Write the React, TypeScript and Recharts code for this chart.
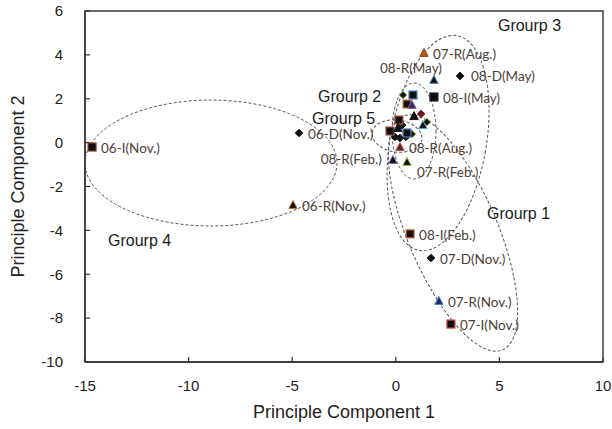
import React from 'react';
import { ScatterChart, Scatter, XAxis, YAxis, ReferenceArea, Label } from 'recharts';

// ---------- layout ----------
const W = 612;
const H = 429;
const MARGIN = { top: 11, right: 9, left: 0, bottom: 0 };
const Y_AXIS_W = 85;
const X_AXIS_H = 67;

// ---------- axes ----------
const X_DOMAIN: [number, number] = [-15, 10];
const Y_DOMAIN: [number, number] = [-10, 6];
const xTicks = [-15, -10, -5, 0, 5, 10];
const yTicks = [-10, -8, -6, -4, -2, 0, 2, 4, 6];
const xTitle = 'Principle Component 1';
const yTitle = 'Principle Component 2';

// ---------- data: I samples (squares) ----------
const iSamples = [
  { id: 'i1', name: '06-I(Nov.)', x: -14.66, y: -0.2 },
  { id: 'i2', name: '08-I(May)', x: 1.84, y: 2.08 },
  { id: 'i3', name: '08-I(Feb.)', x: 0.69, y: -4.16 },
  { id: 'i4', name: '07-I(Nov.)', x: 2.66, y: -8.27 },
  { id: 'i5', name: '', x: 0.83, y: 2.17 },
  { id: 'i6', name: '', x: 0.54, y: 1.76 },
  { id: 'i7', name: '', x: 0.15, y: 1.03 },
  { id: 'i8', name: '', x: -0.28, y: 0.53 },
  { id: 'i9', name: '', x: 0.54, y: 0.44 },
];

// ---------- data: D samples (diamonds) ----------
const dSamples = [
  { id: 'd1', name: '06-D(Nov.)', x: -4.67, y: 0.44 },
  { id: 'd2', name: '08-D(May)', x: 3.1, y: 3.04 },
  { id: 'd3', name: '07-D(Nov.)', x: 1.7, y: -5.26 },
  { id: 'd4', name: '', x: 0.35, y: 2.17 },
  { id: 'd5', name: '', x: 1.22, y: 1.31 },
  { id: 'd6', name: '', x: 1.5, y: 0.94 },
  { id: 'd7', name: '', x: 0.3, y: 0.8 },
  { id: 'd8', name: '', x: -0.04, y: 0.26 },
  { id: 'd9', name: '', x: 0.2, y: 0.21 },
  { id: 'd10', name: '', x: 0.49, y: 0.26 },
  { id: 'd11', name: '', x: 0.78, y: 0.39 },
  { id: 'd12', name: '', x: 0.2, y: 0.95 },
];

// ---------- data: R samples (triangles) ----------
const rSamples = [
  { id: 'r1', name: '07-R(Aug.)', x: 1.36, y: 4.09 },
  { id: 'r2', name: '08-R(May)', x: 1.84, y: 2.86 },
  { id: 'r3', name: '06-R(Nov.)', x: -4.96, y: -2.84 },
  { id: 'r4', name: '07-R(Nov.)', x: 2.08, y: -7.22 },
  { id: 'r5', name: '08-R(Aug.)', x: 0.2, y: -0.2 },
  { id: 'r6', name: '08-R(Feb.)', x: -0.14, y: -0.79 },
  { id: 'r7', name: '07-R(Feb.)', x: 0.54, y: -0.88 },
  { id: 'r8', name: '', x: 0.78, y: 1.72 },
  { id: 'r9', name: '', x: 0.88, y: 1.21 },
  { id: 'r10', name: '', x: 1.31, y: 0.8 },
  { id: 'r11', name: '', x: 0.1, y: 0.67 },
];

// ---------- annotations: group ellipses (data units) ----------
const groupEllipses = [
  { id: 'g4', x: -8.92, y: -0.93, rx: 6.08, ry: 2.87, angle: 0 },
  { id: 'g1', x: 2.76, y: -4.12, rx: 2.17, ry: 5.79, angle: -23 },
  { id: 'g3', x: 2.04, y: -0.02, rx: 2.32, ry: 4.97, angle: 10 },
  { id: 'g2', x: 0.88, y: 0.53, rx: 1.06, ry: 2.19, angle: 0 },
  { id: 'g5', x: 0.06, y: 0.3, rx: 1.21, ry: 0.73, angle: 8 },
];

const groupLabels = [
  { text: 'Grourp 3', x: 4.93, y: 5.36 },
  { text: 'Grourp 2', x: -3.75, y: 2.08 },
  { text: 'Grourp 5', x: -4.04, y: 1.08 },
  { text: 'Grourp 1', x: 4.4, y: -3.21 },
  { text: 'Grourp 4', x: -13.89, y: -4.48 },
];

// ---------- styles ----------
const markerFill: Record<string, string> = {
  r1: '#B8571E', r4: '#1F2F5F', r5: '#5A2A1A', r8: '#3A2A5A', d5: '#6A1A1A',
};
const markerStroke: Record<string, string> = {
  i1: '#8B3A2A', i2: '#222222', i3: '#C0703A', i4: '#C0504D', i5: '#4F81BD',
  i6: '#D08040', i7: '#B06040', i8: '#A05050', i9: '#4F81BD',
  r1: '#8B4513', r2: '#4F81BD', r3: '#C07030', r4: '#4F81BD', r5: '#C0504D',
  r6: '#8064A2', r7: '#9BBB59', r8: '#8064A2', r10: '#4BACC6',
  d4: '#9BBB59', d5: '#8B2020', d6: '#9BBB59', d11: '#9BBB59',
};
const labelPlacement: Record<string, { dx: number; dy: number; anchor: 'start' | 'end' }> = {
  '08-R(May)': { dx: 8, dy: -12, anchor: 'end' },
  '08-R(Feb.)': { dx: -11, dy: -1, anchor: 'end' },
  '07-R(Feb.)': { dx: 10, dy: 10, anchor: 'start' },
  '08-D(May)': { dx: 11, dy: 0, anchor: 'start' },
};
const DEFAULT_PLACEMENT = { dx: 9, dy: 1, anchor: 'start' as const };

const PLOT_W = W - MARGIN.left - MARGIN.right - Y_AXIS_W;
const PLOT_H = H - MARGIN.top - MARGIN.bottom - X_AXIS_H;
const PX_X = PLOT_W / (X_DOMAIN[1] - X_DOMAIN[0]);
const PX_Y = PLOT_H / (Y_DOMAIN[1] - Y_DOMAIN[0]);

const AXIS_FONT = '"Liberation Sans", Arial, sans-serif';
const LABEL_FONT = 'Lato, "Noto Sans", sans-serif';

function PointLabel({ cx, cy, name }: { cx: number; cy: number; name: string }) {
  if (!name) return null;
  const p = labelPlacement[name] || DEFAULT_PLACEMENT;
  return (
    <text
      x={cx + p.dx}
      y={cy + p.dy}
      textAnchor={p.anchor}
      dominantBaseline="central"
      fontFamily={LABEL_FONT}
      fontSize={13.5}
      fill="#4A4035"
    >
      {name}
    </text>
  );
}

function makeShape(kind: 'square' | 'diamond' | 'triangle') {
  return (props: any) => {
    const { cx, cy, payload } = props;
    if (cx == null || cy == null || !payload) return <g />;
    const fill = markerFill[payload.id] || '#111111';
    const stroke = markerStroke[payload.id] || '#111111';
    let mark: React.ReactNode;
    if (kind === 'square') {
      mark = <rect x={cx - 4} y={cy - 4} width={8} height={8} fill={fill} stroke={stroke} strokeWidth={1.2} />;
    } else if (kind === 'diamond') {
      mark = (
        <polygon
          points={`${cx},${cy - 3.8} ${cx + 3.8},${cy} ${cx},${cy + 3.8} ${cx - 3.8},${cy}`}
          fill={fill}
          stroke={stroke}
          strokeWidth={1}
        />
      );
    } else {
      mark = (
        <polygon
          points={`${cx},${cy - 4.5} ${cx + 4.2},${cy + 3.5} ${cx - 4.2},${cy + 3.5}`}
          fill={fill}
          stroke={stroke}
          strokeWidth={1}
        />
      );
    }
    return (
      <g>
        {mark}
        <PointLabel cx={cx} cy={cy} name={payload.name} />
      </g>
    );
  };
}

const EllipseShape = (props: any) => {
  const { cx, cy, payload } = props;
  if (cx == null || cy == null || !payload) return <g />;
  return (
    <ellipse
      cx={cx}
      cy={cy}
      rx={payload.rx * PX_X}
      ry={payload.ry * PX_Y}
      transform={`rotate(${payload.angle} ${cx} ${cy})`}
      fill="none"
      stroke="#555555"
      strokeWidth={1}
      strokeDasharray="3 2"
    />
  );
};

const GroupLabelShape = (props: any) => {
  const { cx, cy, payload } = props;
  if (cx == null || cy == null || !payload) return <g />;
  return (
    <text x={cx} y={cy} dominantBaseline="central" textAnchor="start" fontFamily={AXIS_FONT} fontSize={16} fill="#1A1A1A">
      {payload.text}
    </text>
  );
};

const squareShape = makeShape('square');
const diamondShape = makeShape('diamond');
const triangleShape = makeShape('triangle');

export default function App() {
  return (
    <div style={{ position: 'absolute', left: 0, top: 0, width: W, height: H, background: '#ffffff' }}>
      <ScatterChart width={W} height={H} margin={MARGIN}>
        <XAxis
          type="number"
          dataKey="x"
          domain={X_DOMAIN}
          ticks={xTicks}
          allowDataOverflow
          height={X_AXIS_H}
          tickSize={-5}
          tickMargin={23}
          axisLine={{ stroke: '#333333', strokeWidth: 1.4 }}
          tickLine={{ stroke: '#333333', strokeWidth: 1.2 }}
          tick={{ fill: '#222222', fontSize: 15, fontFamily: AXIS_FONT }}
        >
          <Label
            value={xTitle}
            position="insideBottom"
            offset={11}
            style={{ fontSize: 18, fontFamily: AXIS_FONT, fill: '#222222' }}
          />
        </XAxis>
        <YAxis
          type="number"
          dataKey="y"
          domain={Y_DOMAIN}
          ticks={yTicks}
          allowDataOverflow
          width={Y_AXIS_W}
          tickSize={-5}
          tickMargin={27}
          axisLine={{ stroke: '#333333', strokeWidth: 1.4 }}
          tickLine={{ stroke: '#333333', strokeWidth: 1.2 }}
          tick={{ fill: '#222222', fontSize: 15, fontFamily: AXIS_FONT }}
        >
          <Label
            value={yTitle}
            angle={-90}
            position="insideLeft"
            offset={18}
            style={{ fontSize: 18, fontFamily: AXIS_FONT, fill: '#222222', textAnchor: 'middle' }}
          />
        </YAxis>
        <ReferenceArea
          x1={X_DOMAIN[0]}
          x2={X_DOMAIN[1]}
          y1={Y_DOMAIN[0]}
          y2={Y_DOMAIN[1]}
          fill="none"
          fillOpacity={0}
          stroke="#333333"
          strokeWidth={1.4}
        />
        <Scatter data={groupEllipses} shape={EllipseShape} isAnimationActive={false} legendType="none" />
        <Scatter data={groupLabels} shape={GroupLabelShape} isAnimationActive={false} legendType="none" />
        <Scatter data={dSamples} shape={diamondShape} isAnimationActive={false} />
        <Scatter data={iSamples} shape={squareShape} isAnimationActive={false} />
        <Scatter data={rSamples} shape={triangleShape} isAnimationActive={false} />
      </ScatterChart>
    </div>
  );
}
